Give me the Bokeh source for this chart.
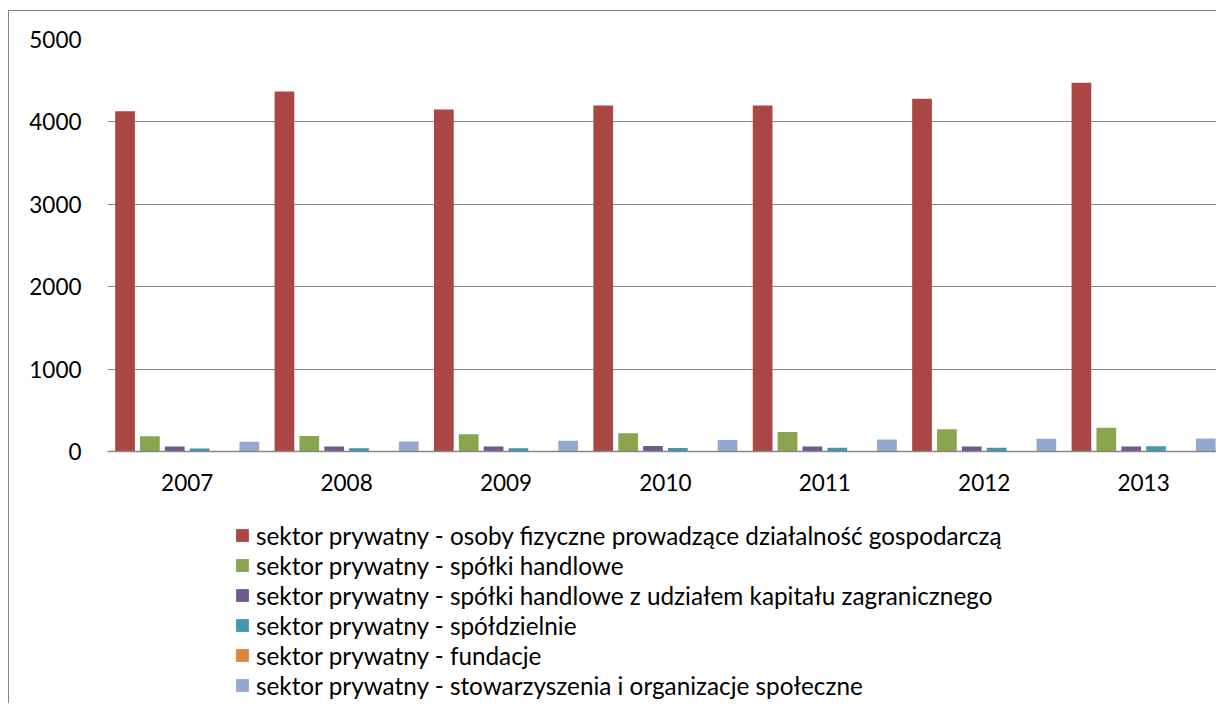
from bokeh.plotting import figure
from bokeh.layouts import column
from bokeh.models import Legend, LegendItem, FixedTicker, ColumnDataSource, Range1d
from bokeh.embed import file_html
from bokeh.resources import INLINE

years = ["2007", "2008", "2009", "2010", "2011", "2012", "2013"]
series_names = [
    "sektor prywatny - osoby fizyczne prowadzące działalność gospodarczą",
    "sektor prywatny - spółki handlowe",
    "sektor prywatny - spółki handlowe z udziałem kapitału zagranicznego",
    "sektor prywatny - spółdzielnie",
    "sektor prywatny - fundacje",
    "sektor prywatny - stowarzyszenia i organizacje społeczne",
]
osoby_fizyczne = [4130, 4370, 4150, 4200, 4200, 4280, 4475]
spolki_handlowe = [185, 188, 208, 222, 238, 270, 288]
spolki_zagraniczne = [60, 62, 62, 67, 60, 60, 60]
spoldzielnie = [36, 40, 38, 42, 44, 47, 63]
fundacje = [4, 4, 5, 5, 6, 6, 7]
stowarzyszenia = [119, 122, 131, 139, 146, 154, 158]

values = [osoby_fizyczne, spolki_handlowe, spolki_zagraniczne, spoldzielnie, fundacje, stowarzyszenia]
colors = ["#AA4643", "#89A54E", "#71588F", "#4198AF", "#DB843D", "#93A9CF"]

FONT = "Lato"
FS = "22.5px"
LEG_FS = "24.3px"
GRID = "#868686"
W = 1216

# ---------------- chart ----------------
p = figure(width=W, height=520, output_backend="svg", toolbar_location=None,
           x_range=Range1d(0, 1109 / 159.4), y_range=Range1d(0, 5000),
           min_border_left=107, min_border_right=0, min_border_top=39, min_border_bottom=69)
p.outline_line_color = None
p.background_fill_color = "white"
p.border_fill_alpha = 0

step = 0.156
bar_w = 0.1237
sources = []
for k, (vals, col) in enumerate(zip(values, colors)):
    xs = [i + 0.5 + (k - 2.5) * step for i in range(len(years))]
    src = ColumnDataSource(dict(x=xs, top=vals))
    sources.append(src)
    p.vbar(x="x", top="top", width=bar_w, source=src, fill_color=col, line_color=None)

p.xaxis.ticker = FixedTicker(ticks=[i + 0.5 for i in range(len(years))])
p.xaxis.major_label_overrides = {i + 0.5: y for i, y in enumerate(years)}
p.xaxis.major_tick_in = 0
p.xaxis.major_tick_out = 0
p.xaxis.minor_tick_line_color = None
p.xaxis.axis_line_color = "#888888"
p.xaxis.axis_line_width = 1.5
p.xaxis.major_label_standoff = 22
p.xaxis.major_label_text_font = FONT
p.xaxis.major_label_text_font_size = FS
p.xaxis.major_label_text_color = "black"

p.yaxis.ticker = FixedTicker(ticks=[0, 1000, 2000, 3000, 4000, 5000])
p.yaxis.major_tick_in = 0
p.yaxis.major_tick_out = 0
p.yaxis.minor_tick_line_color = None
p.yaxis.axis_line_color = None
p.yaxis.major_label_standoff = 26
p.yaxis.major_label_text_font = FONT
p.yaxis.major_label_text_font_size = FS
p.yaxis.major_label_text_color = "black"

p.xgrid.grid_line_color = None
p.ygrid.grid_line_color = GRID
p.ygrid.grid_line_width = 1

# ---------------- legend panel ----------------
# hidden copies of the series, only so that the legend has glyphs
lp = figure(width=W, height=183, output_backend="svg", toolbar_location=None,
            x_axis_type=None, y_axis_type=None,
            x_range=Range1d(1000, 1001), y_range=Range1d(-200000, -100000),
            min_border_left=0, min_border_right=0, min_border_top=0, min_border_bottom=0)
lp.outline_line_color = None
lp.background_fill_alpha = 0
lp.border_fill_alpha = 0
lp.xgrid.grid_line_color = None
lp.ygrid.grid_line_color = None

items = []
for name, col, src in zip(series_names, colors, sources):
    r = lp.vbar(x="x", top="top", width=bar_w, source=src, fill_color=col, line_color=None)
    r.visible = False
    items.append(LegendItem(label=name, renderers=[r]))

legend = Legend(items=items, location=(127, 3), orientation="vertical",
                border_line_color=None, background_fill_alpha=0, padding=0, margin=0,
                spacing=0, glyph_width=16, glyph_height=16, label_height=30,
                label_standoff=6, label_text_font=FONT, label_text_font_size=LEG_FS,
                label_text_color="black", click_policy="none")
lp.add_layout(legend, "center")

layout = column(p, lp, spacing=0)
layout.styles = {
    "background-color": "white",
    "background-image": "linear-gradient(#868686, #868686), linear-gradient(#868686, #868686)",
    "background-position": "8px 10px, 8px 10px",
    "background-size": "1px 100%, 100% 1px",
    "background-repeat": "no-repeat",
}

open("out.html", "w").write(file_html(layout, INLINE))
